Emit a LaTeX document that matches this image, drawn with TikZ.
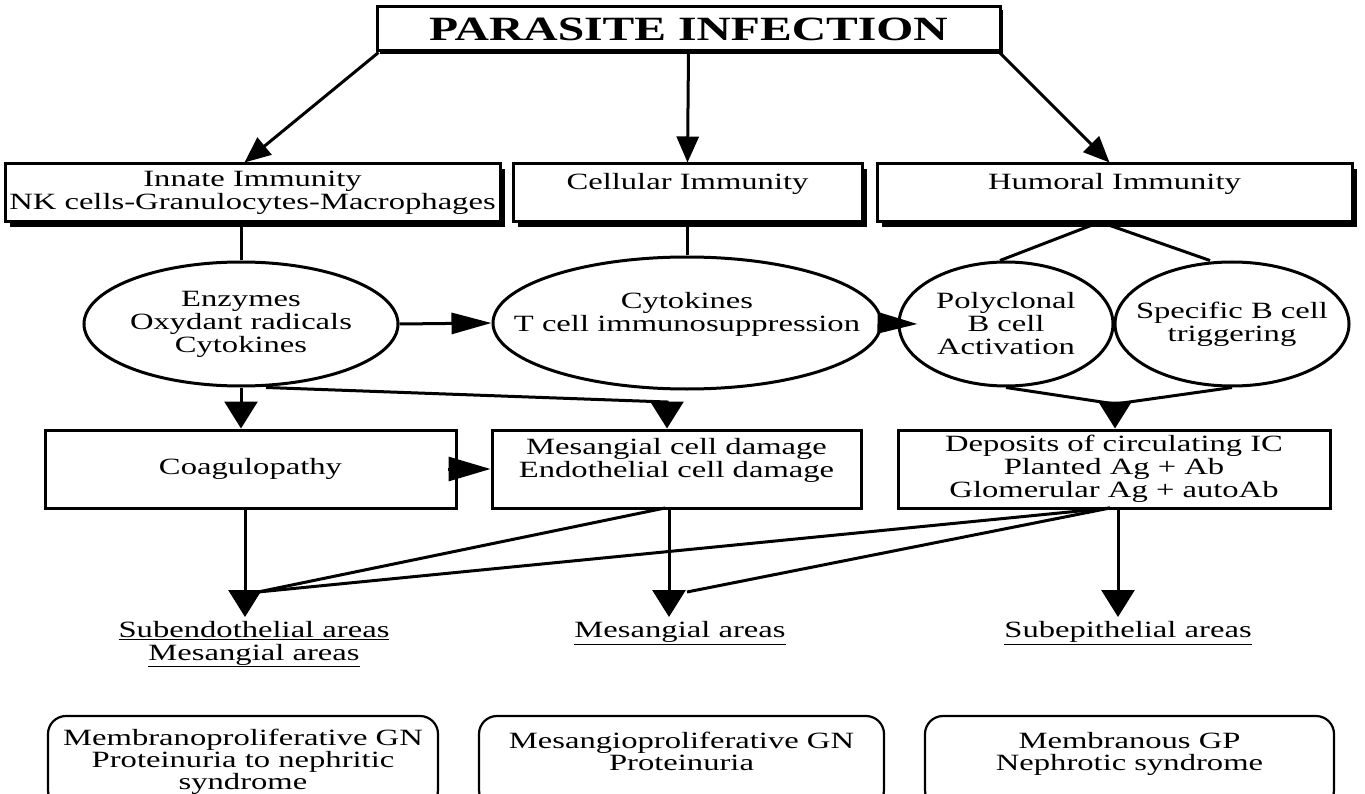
\documentclass[tikz,border=0pt]{standalone}
\usepackage{fontspec}
\setmainfont{Liberation Serif}[FakeStretch=1.4]
\usetikzlibrary{arrows.meta,shapes.geometric,shadows}
\begin{document}
\begin{tikzpicture}[x=1pt,y=-1pt, line width=3pt, line join=miter,
  every node/.style={font=\fontsize{23.3}{23}\selectfont, align=center, inner sep=0pt},
  sbox/.style={draw, fill=white, rectangle, drop shadow={shadow xshift=5pt, shadow yshift=-5pt, opacity=1, fill=black}},
  pbox/.style={draw, fill=white, rectangle},
  ell/.style={draw, ellipse, inner sep=-60pt},
  rbox/.style={draw, line width=2.2pt, rounded corners=18pt, font=\fontsize{23.3}{22}\selectfont},
  arrv/.style={-{Triangle[length=27pt,width=33pt]}},
  arrh/.style={-{Triangle[length=40pt,width=21pt]}},
  arrtop/.style={-{Triangle[length=26pt,width=22pt]}},
]
\useasboundingbox (0,0) rectangle (1365,794);

% top
\node[draw, fill=white, line width=3pt, minimum width=623pt, minimum height=44pt,
  drop shadow={shadow xshift=3pt, shadow yshift=-3pt, opacity=1, fill=black},
  font=\fontsize{34}{34}\selectfont\bfseries] (top) at (688.5,29) {PARASITE INFECTION};

% level 2
\node[sbox, minimum width=495pt, minimum height=58pt] (inn) at (252.5,193) {Innate Immunity\\NK cells-Granulocytes-Macrophages};
\node[sbox, minimum width=349pt, minimum height=58pt] (cel) at (687.5,193) {Cellular Immunity\\\mbox{}};
\node[sbox, minimum width=475pt, minimum height=58pt] (hum) at (1114.5,193) {Humoral Immunity\\\mbox{}};

\draw[arrtop] ([xshift=3pt]top.south west) -- ([xshift=-8pt]inn.north);
\draw[arrtop] (top.south) -- (cel.north);
\draw[arrtop] ([xshift=-2pt]top.south east) -- ([xshift=-5pt]hum.north);

% ellipses
\node[ell, minimum width=314pt, minimum height=124pt] (enz) at (241,324) {Enzymes\\Oxydant radicals\\Cytokines};
\node[ell, minimum width=388pt, minimum height=132pt] (cyt) at (687,323) {Cytokines\\T cell immunosuppression\\\mbox{}};
\node[ell, minimum width=214pt, minimum height=124pt] (pol) at (1006,324) {Polyclonal\\B cell\\Activation};
\node[ell, minimum width=234pt, minimum height=124pt] (spe) at (1232,324) {Specific B cell\\triggering};

\draw (enz.north |- inn.south) -- (enz.north);
\draw (cyt.north |- cel.south) -- (cyt.north);
\coordinate (hap) at (1100,222);
\draw ([xshift=-6pt]pol.north) -- (hap) -- ([xshift=-22pt]spe.north);

\draw[arrh] (enz.east) -- (cyt.west);
\draw[arrh] (cyt.east) -- ([xshift=20pt]pol.west);

% level 3
\node[pbox, minimum width=411pt, minimum height=78pt] (coa) at (250.5,469) {Coagulopathy};
\node[pbox, minimum width=369pt, minimum height=78pt] (mes) at (676.5,469) {Mesangial cell damage\\Endothelial cell damage\\\mbox{}};
\node[pbox, minimum width=432pt, minimum height=78pt] (dep) at (1114,469) {Deposits of circulating IC\\Planted Ag + Ab\\Glomerular Ag + autoAb};

\draw[arrv] (enz.south) -- (enz.south |- coa.north);
\coordinate (mk) at (667,402);
\draw[arrv] ([xshift=25pt]enz.south) -- (mk) -- (mk |- mes.north);
\coordinate (dj) at (1115,404);
\draw (pol.south) -- (dj) -- (spe.south);
\draw[arrv] (dj) -- (dj |- dep.north);
\draw[-{Triangle[length=42pt,width=24pt]}] ([xshift=-10pt]coa.east) -- (mes.west);

% areas
\coordinate (t1) at (245,617);
\coordinate (t2) at (669,617);
\coordinate (t3) at (1118,617);
\coordinate (j1) at (258,592);
\coordinate (j2) at (687,592);
\coordinate (m1) at (665,508);
\coordinate (d1) at (1110,508);
\draw[arrv] (t1 |- coa.south) -- (t1);
\draw[arrv] (t2 |- mes.south) -- (t2);
\draw[arrv] (t3 |- dep.south) -- (t3);
\draw (m1) -- (j1);
\draw (d1) -- (j1);
\draw (d1) -- (j2);

\node (l1) at (254,644) {\underline{Subendothelial areas}\\\underline{Mesangial areas}};
\node (l2) at (680,633) {\underline{Mesangial areas}};
\node (l3) at (1128,633) {\underline{Subepithelial areas}};

% outcomes
\node[rbox, minimum width=390pt, minimum height=92pt] (b1) at (243,762) {Membranoproliferative GN\\Proteinuria to nephritic\\syndrome};
\node[rbox, minimum width=405pt, minimum height=92pt] (b2) at (681.5,762) {Mesangioproliferative GN\\Proteinuria\\\mbox{}};
\node[rbox, minimum width=409pt, minimum height=92pt] (b3) at (1129.5,762) {Membranous GP\\Nephrotic syndrome\\\mbox{}};
\end{tikzpicture}
\end{document}
